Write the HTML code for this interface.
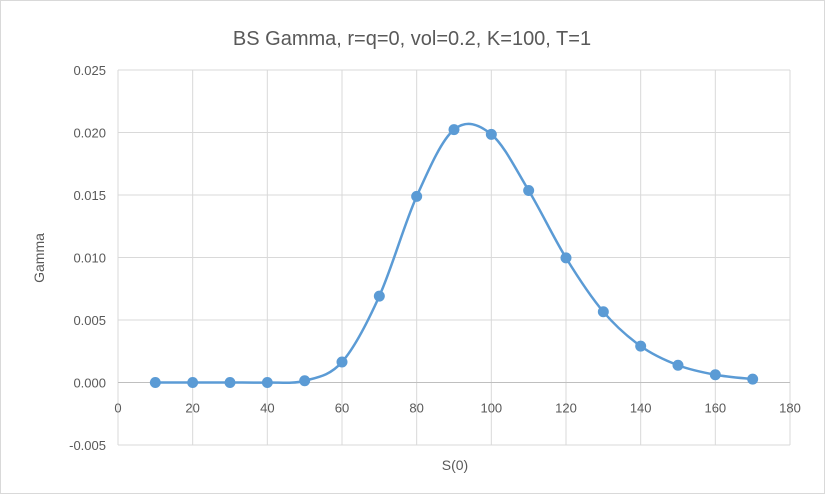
<!DOCTYPE html>
<html><head><meta charset="utf-8"><style>
body{margin:0;background:#fff}
svg{font-family:"Liberation Sans",sans-serif;display:block}
</style></head><body>
<svg id="chart" width="825" height="494" viewBox="0 0 825 494">
<rect x="0.5" y="0.5" width="824" height="493" fill="#fff" stroke="#d9d9d9"/>
<text x="412" y="45" text-anchor="middle" font-size="20" fill="#595959">BS Gamma, r=q=0, vol=0.2, K=100, T=1</text>
<text x="0" y="0" transform="translate(44,258) rotate(-90)" text-anchor="middle" font-size="14" fill="#595959">Gamma</text>
<text x="455" y="470" text-anchor="middle" font-size="14" fill="#595959">S(0)</text>
<g id="grid"></g><g id="axes"></g><g id="series"></g>
</svg>
<script>
const xValues=[10,20,30,40,50,60,70,80,90,100,110,120,130,140,150,160,170];
const gammaValues=[0,0,0,0.000002,0.00014,0.00164,0.00691,0.01489,0.02023,0.01985,0.01536,0.00997,0.00566,0.00291,0.00138,0.00062,0.00027];
const xTicks=[0,20,40,60,80,100,120,140,160,180];
const yTicks=[-0.005,0,0.005,0.010,0.015,0.020,0.025];
const NS="http://www.w3.org/2000/svg";
const L=118,R=790,T=70,B=445,xMin=0,xMax=180,yMin=-0.005,yMax=0.025;
const sx=v=>L+(v-xMin)/(xMax-xMin)*(R-L);
const sy=v=>B-(v-yMin)/(yMax-yMin)*(B-T);
function mk(t,a,p){const e=document.createElementNS(NS,t);for(const k in a)e.setAttribute(k,a[k]);p.appendChild(e);return e;}
const grid=document.getElementById('grid'),axes=document.getElementById('axes'),ser=document.getElementById('series');
xTicks.forEach(v=>{
 const l=mk('line',{x1:sx(v),x2:sx(v),y1:T,y2:B,stroke:'#d9d9d9','stroke-width':1},grid);
 
 
 const t=mk('text',{x:sx(v),y:sy(0)+30,'text-anchor':'middle','font-size':13,fill:'#595959'},axes);
 t.textContent=v;
 
 
});
yTicks.forEach(v=>{
 const l=mk('line',{x1:L,x2:R,y1:sy(v),y2:sy(v),stroke:'#d9d9d9','stroke-width':1},grid);
 
 
 const t=mk('text',{x:L-12,y:sy(v)+5,'text-anchor':'end','font-size':13,fill:'#595959'},axes);
 t.textContent=v.toFixed(3);
 
 
});
const ax=mk('line',{x1:L,x2:R,y1:sy(0),y2:sy(0),stroke:'#bfbfbf','stroke-width':1},axes);


const P=xValues.map((x,i)=>[sx(x),sy(gammaValues[i])]);
let d='M'+P[0][0]+','+P[0][1];
for(let i=0;i<P.length-1;i++){
 const p0=P[Math.max(0,i-1)],p1=P[i],p2=P[i+1],p3=P[Math.min(P.length-1,i+2)];
 const c1=[p1[0]+(p2[0]-p0[0])/6,p1[1]+(p2[1]-p0[1])/6];
 const c2=[p2[0]-(p3[0]-p1[0])/6,p2[1]-(p3[1]-p1[1])/6];
 d+=` C${c1[0]},${c1[1]} ${c2[0]},${c2[1]} ${p2[0]},${p2[1]}`;
}
const path=mk('path',{d:d,fill:'none',stroke:'#5b9bd5','stroke-width':2.5},ser);


P.forEach(p=>{
 const c=mk('circle',{cx:p[0],cy:p[1],r:5,fill:'#5b9bd5',stroke:'#5b9bd5'},ser);
 
 
});
</script>
</body></html>
